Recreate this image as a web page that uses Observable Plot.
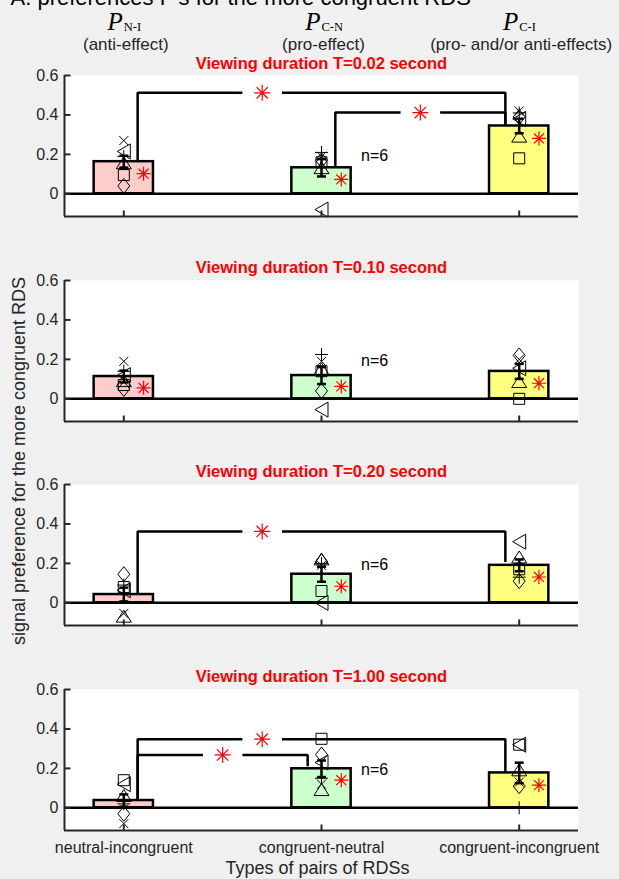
<!DOCTYPE html>
<html><head><meta charset="utf-8">
<script src="https://cdn.jsdelivr.net/npm/d3@7"></script>
<script src="https://cdn.jsdelivr.net/npm/@observablehq/plot@0.6"></script>
<style>
body{margin:0;background:#f0f0f0;}
#fig{position:relative;width:619px;height:879px;overflow:hidden;background:#f0f0f0;font-family:"Liberation Sans",Arial,Helvetica,sans-serif;color:#262626;}
#ylab{position:absolute;left:18.5px;top:461px;transform:translate(-50%,-50%) rotate(-90deg);white-space:nowrap;font-size:18px;color:#262626;}
</style></head><body><div id="fig"><div id="ylab">signal preference for the more congruent RDS</div></div>
<script>
// ---------- data ----------
const figTitle = "A. preferences P's for the more congruent RDS";
const durations = ["0.02", "0.10", "0.20", "1.00"];
const categories = ["neutral-incongruent", "congruent-neutral", "congruent-incongruent"];
const catX = [1, 2, 3];
const pSubs = ["N-I", "C-N", "C-I"];
const pNotes = ["(anti-effect)", "(pro-effect)", "(pro- and/or anti-effects)"];
const yTicks = [0, 0.2, 0.4, 0.6];
const xDomain = [0.7, 3.3];
const yDomain = [-0.115, 0.6];
const xLabel = "Types of pairs of RDSs";
const nLabel = "n=6";
const nLabelAt = [2.2, 0.19];

// bar means and SEM, order = categories
const means_002 = [0.163, 0.132, 0.344];
const means_010 = [0.113, 0.118, 0.139];
const means_020 = [0.042, 0.145, 0.190];
const means_100 = [0.037, 0.198, 0.177];
const sem_002 = [0.030, 0.044, 0.037];
const sem_010 = [0.030, 0.043, 0.038];
const sem_020 = [0.035, 0.038, 0.030];
const sem_100 = [0.031, 0.042, 0.052];

// individual subjects (6), rows = categories
const subj_002 = [[0.27, 0.215, 0.19, 0.155, 0.095, 0.04], [0.19, -0.08, 0.21, 0.13, 0.16, 0.17], [0.42, 0.38, 0.41, 0.29, 0.18, 0.39]];
const subj_010 = [[0.19, 0.12, 0.14, 0.09, 0.07, 0.05], [0.19, -0.055, 0.225, 0.15, 0.14, 0.04], [0.2, 0.155, 0.14, 0.085, 0.0, 0.22]];
const subj_020 = [[-0.054, 0.064, 0.09, -0.07, 0.08, 0.145], [0.19, 0.0, 0.2, 0.22, 0.06, 0.21], [0.21, 0.31, 0.13, 0.23, 0.17, 0.11]];
const subj_100 = [[-0.08, 0.12, 0.02, 0.06, 0.14, -0.03], [0.12, 0.23, 0.15, 0.09, 0.35, 0.27], [0.13, 0.32, 0.0, 0.19, 0.32, 0.11]];

// red asterisks beside the bars (null = none)
const red_002 = [0.102, 0.073, 0.281];
const red_010 = [0.056, 0.063, 0.079];
const red_020 = [null, 0.084, 0.131];
const red_100 = [null, 0.14, 0.115];

// significance brackets: [from, to, level, baseFrom, baseTo, starX]
const br_002 = [[1, 3, 0.512, 0.171, 0.352, 1.7], [2, 3, 0.412, 0.137, 0.352, 2.5]];
const br_010 = [];
const br_020 = [[1, 3, 0.362, 0.047, 0.207, 1.7]];
const br_100 = [[1, 3, 0.348, 0.043, 0.18, 1.7], [1, 2, 0.268, 0.043, 0.211, 1.5]];

// ---------- styles ----------
const barFills = ["#ffcccc", "#ccffcc", "#ffff80"];
const axisColor = "#262626";
const font = "Liberation Sans, Arial, Helvetica, sans-serif";
const serif = "Liberation Serif, Times New Roman, serif";
const barHalf = 0.15, starDX = 0.1, brInset = 0.07, starGap = 0.1;
const plotTops = [75, 279.5, 484, 688.5];
const plotH = 141;

const sym = fn => ({draw(c) { fn(c); }});
const timesSym = sym(c => { const h = 4.5; c.moveTo(-h, -h); c.lineTo(h, h); c.moveTo(-h, h); c.lineTo(h, -h); });
const plusSym = sym(c => { const h = 6.5; c.moveTo(-h, 0); c.lineTo(h, 0); c.moveTo(0, -h); c.lineTo(0, h); });
const triUpSym = sym(c => { c.moveTo(0, -6.5); c.lineTo(7.5, 5.5); c.lineTo(-7.5, 5.5); c.closePath(); });
const triLeftSym = sym(c => { c.moveTo(-6.5, 0); c.lineTo(6.5, -7.5); c.lineTo(6.5, 7.5); c.closePath(); });
const squareSym = sym(c => { c.rect(-5.5, -5.5, 11, 11); });
const diamondSym = sym(c => { c.moveTo(0, -7.5); c.lineTo(6, 0); c.lineTo(0, 7.5); c.lineTo(-6, 0); c.closePath(); });
const starSym = h => { const d = h * Math.SQRT1_2; return sym(c => { c.moveTo(-h, 0); c.lineTo(h, 0); c.moveTo(0, -h); c.lineTo(0, h); c.moveTo(-d, -d); c.lineTo(d, d); c.moveTo(-d, d); c.lineTo(d, -d); }); };
const capSym = sym(c => { c.moveTo(-4.5, 0); c.lineTo(4.5, 0); });
const tickRight = sym(c => { c.moveTo(0, 0); c.lineTo(6, 0); });
const tickUp = sym(c => { c.moveTo(0, 0); c.lineTo(0, -6); });
const subjSyms = [timesSym, triLeftSym, plusSym, triUpSym, squareSym, diamondSym];

const panels = [
  {dur: durations[0], means: means_002, sem: sem_002, subj: subj_002, red: red_002, br: br_002},
  {dur: durations[1], means: means_010, sem: sem_010, subj: subj_010, red: red_010, br: br_010},
  {dur: durations[2], means: means_020, sem: sem_020, subj: subj_020, red: red_020, br: br_020},
  {dur: durations[3], means: means_100, sem: sem_100, subj: subj_100, red: red_100, br: br_100}
];

const fig = document.getElementById("fig");

panels.forEach((p, k) => {
  const top = plotTops[k];
  const mt = k === 0 ? top : 28;
  const mb = k === 3 ? 52 : 6;
  const marks = [];
  marks.push(Plot.frame({fill: "white", stroke: "none"}));
  // bars
  catX.forEach((c, i) => {
    marks.push(Plot.rect([c], {x1: d => d - barHalf, x2: d => d + barHalf, y1: 0, y2: () => p.means[i], fill: barFills[i], stroke: "black", strokeWidth: 2.5}));
  });
  // zero line
  marks.push(Plot.ruleY([0], {stroke: "black", strokeWidth: 2.5}));
  // subjects
  subjSyms.forEach((s, j) => {
    marks.push(Plot.dot(catX, {x: d => d, y: (d, i) => p.subj[i][j], symbol: s, stroke: "black", fill: "none", strokeWidth: 1}));
  });
  // error bars
  marks.push(Plot.ruleX(catX, {x: d => d, y1: (d, i) => p.means[i] - p.sem[i], y2: (d, i) => p.means[i] + p.sem[i], stroke: "black", strokeWidth: 2.5}));
  marks.push(Plot.dot(catX, {x: d => d, y: (d, i) => p.means[i] - p.sem[i], symbol: capSym, stroke: "black", strokeWidth: 2.5}));
  marks.push(Plot.dot(catX, {x: d => d, y: (d, i) => p.means[i] + p.sem[i], symbol: capSym, stroke: "black", strokeWidth: 2.5}));
  // red asterisks
  const reds = catX.map((c, i) => ({x: c + starDX, y: p.red[i]})).filter(d => d.y != null);
  marks.push(Plot.dot(reds, {x: "x", y: "y", symbol: starSym(7), stroke: "#ff0000", strokeWidth: 1.2}));
  // brackets
  const pts = [];
  p.br.forEach(([from, to, lvl, b1, b2, sx], j) => {
    const xl = from + brInset, xr = to - brInset;
    [[xl, b1], [xl, lvl], [sx - starGap, lvl]].forEach(([x, y]) => pts.push({id: j + "a", x, y}));
    [[sx + starGap, lvl], [xr, lvl], [xr, b2]].forEach(([x, y]) => pts.push({id: j + "b", x, y}));
  });
  marks.push(Plot.line(pts, {x: "x", y: "y", z: "id", stroke: "black", strokeWidth: 2.5, strokeLinejoin: "miter", strokeLinecap: "butt"}));
  marks.push(Plot.dot(p.br, {x: b => b[5], y: b => b[2], symbol: starSym(8), stroke: "#ff0000", strokeWidth: 1.2}));
  // n label
  marks.push(Plot.text([nLabel], {x: nLabelAt[0], y: nLabelAt[1], textAnchor: "start", fill: "black", fontSize: 16}));
  // axes
  marks.push(Plot.ruleX([xDomain[0]], {stroke: axisColor, strokeWidth: 2}));
  marks.push(Plot.ruleY([yDomain[0]], {stroke: axisColor, strokeWidth: 2}));
  marks.push(Plot.dot(yTicks, {x: xDomain[0], y: d => d, symbol: tickRight, stroke: axisColor, strokeWidth: 2}));
  marks.push(Plot.dot(catX, {x: d => d, y: yDomain[0], symbol: tickUp, stroke: axisColor, strokeWidth: 2}));
  marks.push(Plot.text(yTicks, {x: xDomain[0], y: d => d, text: d => d === 0 ? "0" : d.toFixed(1), textAnchor: "end", dx: -6, fill: axisColor, fontSize: 16}));
  // title
  marks.push(Plot.text([`Viewing duration T=${p.dur} second`], {frameAnchor: "top", dy: k === 0 ? -7 : -8, lineAnchor: "bottom", fill: "#ff0000", fontWeight: "bold", fontSize: 16.5}));
  if (k === 0) {
    marks.push(Plot.text([figTitle], {frameAnchor: "top-left", dx: -54, dy: 4 - top, lineAnchor: "bottom", textAnchor: "start", fontSize: 22, fill: "black"}));
    marks.push(Plot.text(catX, {x: d => d, frameAnchor: "top", text: () => "P", textAnchor: "end", dx: -1, dy: 29 - top, lineAnchor: "bottom", fontFamily: serif, fontStyle: "italic", fontSize: 25, fill: "black"}));
    marks.push(Plot.text(catX, {x: d => d, frameAnchor: "top", text: (d, i) => pSubs[i], textAnchor: "start", dx: 0, dy: 30.5 - top, lineAnchor: "bottom", fontFamily: serif, fontSize: 12.5, fill: "black"}));
    marks.push(Plot.text(catX, {x: d => d, frameAnchor: "top", text: (d, i) => pNotes[i], dx: 2, dy: 49.5 - top, lineAnchor: "bottom", fontSize: 17, fill: "#262626"}));
  }
  if (k === 3) {
    marks.push(Plot.text(catX, {x: d => d, y: yDomain[0], text: (d, i) => categories[i], dy: 22, lineAnchor: "bottom", fill: axisColor, fontSize: 16}));
    marks.push(Plot.text([xLabel], {frameAnchor: "bottom", dx: -4, dy: 43.5, lineAnchor: "bottom", fill: axisColor, fontSize: 18}));
  }
  const chart = Plot.plot({
    width: 619, height: mt + plotH + mb,
    marginLeft: 64, marginRight: 41, marginTop: mt, marginBottom: mb,
    x: {domain: xDomain, axis: null},
    y: {domain: yDomain, axis: null},
    style: {background: "transparent", overflow: "visible", fontFamily: font, fontSize: "16px", color: axisColor},
    marks
  });
  chart.style.position = "absolute";
  chart.style.left = "0px";
  chart.style.top = (top - mt) + "px";
  fig.appendChild(chart);
});
</script></body></html>
